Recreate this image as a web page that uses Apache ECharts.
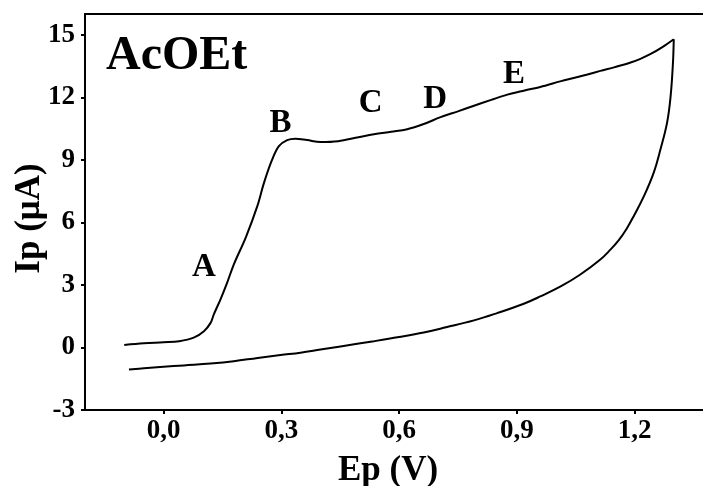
<!DOCTYPE html>
<html>
<head>
<meta charset="utf-8">
<script src="https://cdn.jsdelivr.net/npm/echarts@6/dist/echarts.min.js"></script>
<style>
  html, body { margin: 0; padding: 0; background: #fff; }
  #chart { width: 703px; height: 486px; }
</style>
</head>
<body>
<div id="chart"></div>
<script>
// Cyclic voltammogram in ethyl acetate (AcOEt): anodic sweep then cathodic return.
const forwardE = [-0.10, -0.05, 0.00, 0.04, 0.077, 0.103, 0.12, 0.128, 0.145, 0.162, 0.179, 0.21, 0.239, 0.256, 0.277, 0.294, 0.315, 0.336, 0.366, 0.40, 0.445, 0.493, 0.536, 0.58, 0.621, 0.663, 0.706, 0.75, 0.791, 0.835, 0.876, 0.92, 0.96, 1.013, 1.045, 1.08, 1.113, 1.15, 1.19, 1.215, 1.24, 1.27, 1.30];
const forwardI = [0.12, 0.20, 0.25, 0.30, 0.47, 0.78, 1.18, 1.58, 2.3, 3.1, 3.98, 5.3, 6.78, 7.9, 9.02, 9.66, 9.95, 10.02, 9.95, 9.86, 9.9, 10.07, 10.23, 10.35, 10.47, 10.72, 11.05, 11.33, 11.6, 11.88, 12.13, 12.33, 12.5, 12.78, 12.93, 13.1, 13.27, 13.45, 13.67, 13.85, 14.07, 14.4, 14.79];

const reverseE = [1.30, 1.298, 1.292, 1.283, 1.266, 1.249, 1.224, 1.198, 1.18, 1.16, 1.138, 1.113, 1.062, 1.013, 0.96, 0.918, 0.85, 0.791, 0.72, 0.663, 0.60, 0.536, 0.451, 0.40, 0.349, 0.298, 0.24, 0.179, 0.12, 0.052, 0.0, -0.05, -0.088];
const reverseI = [14.79, 13.67, 12.06, 10.79, 9.5, 8.39, 7.26, 6.3, 5.7, 5.15, 4.68, 4.22, 3.5, 2.94, 2.45, 2.1, 1.65, 1.3, 0.97, 0.72, 0.5, 0.3, 0.05, -0.1, -0.25, -0.36, -0.5, -0.66, -0.77, -0.86, -0.93, -1.0, -1.06];

// Peak annotations and where their letters sit (E in V, I in µA)
const peakNames = ['A', 'B', 'C', 'D', 'E'];
const peakLabelE = [0.103, 0.298, 0.528, 0.692, 0.893];
const peakLabelI = [3.82, 10.73, 11.69, 11.89, 13.11];

const xTicks = [0.0, 0.3, 0.6, 0.9, 1.2];
const yTicks = [-3, 0, 3, 6, 9, 12, 15];

const FONT = '"Liberation Serif", "Times New Roman", serif';

const zip = (xs, ys) => xs.map((x, i) => [x, ys[i]]);

const chart = echarts.init(document.getElementById('chart'), null, { renderer: 'canvas' });

const axisLine = { show: true, onZero: false, lineStyle: { color: '#000', width: 2 } };

chart.setOption({
  animation: false,
  backgroundColor: '#fff',
  title: {
    text: 'AcOEt',
    left: 106,
    top: 33,
    padding: 0,
    textStyle: { fontFamily: FONT, fontWeight: 'bold', fontSize: 48, color: '#000' }
  },
  grid: { left: 85, right: 0, top: 14, bottom: 76, containLabel: false, outerBoundsMode: 'none' },
  xAxis: [{
    type: 'value',
    min: -0.2,
    max: 1.3745,
    position: 'bottom',
    axisLine: axisLine,
    splitLine: { show: false },
    axisTick: { show: true, inside: false, length: 4, lineStyle: { color: '#000', width: 2 }, customValues: xTicks },
    axisLabel: {
      customValues: xTicks,
      margin: 8,
      formatter: v => v.toFixed(1).replace('.', ','),
      fontFamily: FONT, fontWeight: 'bold', fontSize: 27, color: '#000'
    },
    name: 'Ep (V)',
    nameLocation: 'middle',
    nameGap: 43,
    nameTextStyle: { fontFamily: FONT, fontWeight: 'bold', fontSize: 35, color: '#000', padding: [0, 12, 0, 0] }
  }, {
    type: 'value',
    min: -0.2,
    max: 1.3745,
    position: 'top',
    axisLine: axisLine,
    axisTick: { show: false },
    axisLabel: { show: false },
    splitLine: { show: false }
  }],
  yAxis: {
    type: 'value',
    min: -3,
    max: 16,
    axisLine: axisLine,
    splitLine: { show: false },
    axisTick: { show: true, inside: false, length: 4, lineStyle: { color: '#000', width: 2 }, customValues: yTicks },
    axisLabel: {
      customValues: yTicks,
      margin: 10,
      fontFamily: FONT, fontWeight: 'bold', fontSize: 27, color: '#000'
    },
    name: 'Ip (μA)',
    nameLocation: 'middle',
    nameGap: 38,
    nameMoveOverlap: false,
    nameRotate: 90,
    nameTextStyle: { fontFamily: FONT, fontWeight: 'bold', fontSize: 35, color: '#000', padding: [0, 13, 0, 0] }
  },
  series: [
    {
      name: 'anodic',
      type: 'line',
      data: zip(forwardE, forwardI),
      smooth: 0.35,
      showSymbol: false,
      lineStyle: { color: '#000', width: 2 }
    },
    {
      name: 'cathodic',
      type: 'line',
      data: zip(reverseE, reverseI),
      smooth: 0.4,
      showSymbol: false,
      lineStyle: { color: '#000', width: 2 }
    },
    {
      name: 'peaks',
      type: 'scatter',
      symbolSize: 0,
      itemStyle: { color: '#000', opacity: 1 },
      data: peakNames.map((n, i) => ({ name: n, value: [peakLabelE[i], peakLabelI[i]] })),
      label: {
        show: true,
        position: 'inside',
        formatter: p => p.name,
        textBorderWidth: 0,
        opacity: 1,
        fontFamily: FONT, fontWeight: 'bold', fontSize: 33, color: '#000'
      }
    }
  ]
});
</script>
</body>
</html>
